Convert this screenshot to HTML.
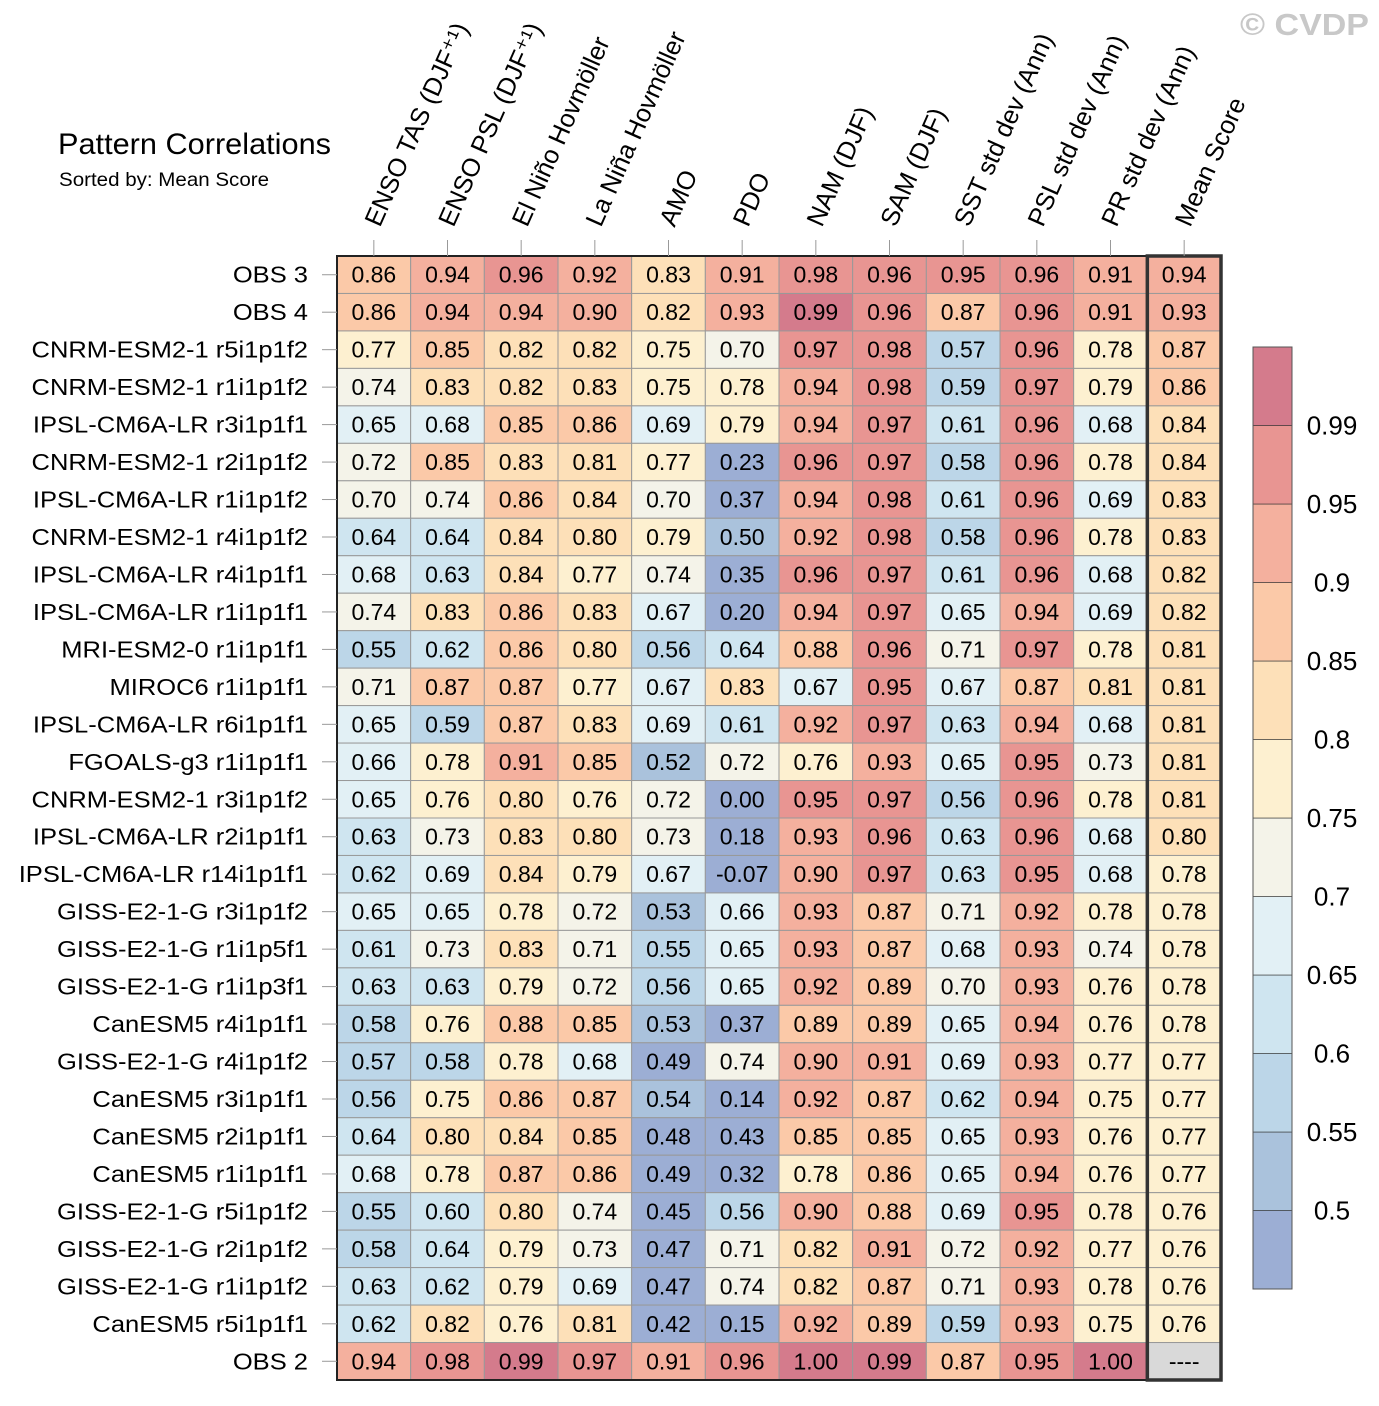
<!DOCTYPE html>
<html><head><meta charset="utf-8"><style>
body{margin:0;background:#fff;width:1379px;height:1401px;overflow:hidden}
svg{font-family:"Liberation Sans",sans-serif}
</style></head><body>
<svg id="chart" width="1379" height="1401" viewBox="0 0 1379 1401">
<text x="1240" y="35" font-size="31" font-weight="bold" fill="#c8c8c8" textLength="129" lengthAdjust="spacingAndGlyphs">© CVDP</text>
<text x="58" y="154" font-size="29.5" fill="#000" textLength="273" lengthAdjust="spacingAndGlyphs">Pattern Correlations</text>
<text x="59" y="186" font-size="19.5" fill="#000" textLength="210" lengthAdjust="spacingAndGlyphs">Sorted by: Mean Score</text>
<g id="cells"></g><g id="collabels"></g><g id="rowlabels"></g><g id="cbar"></g>
</svg>
<script>
const columns=["ENSO TAS (DJF\u207A\u00B9)","ENSO PSL (DJF\u207A\u00B9)","El Niño Hovmöller","La Niña Hovmöller","AMO","PDO","NAM (DJF)","SAM (DJF)","SST std dev (Ann)","PSL std dev (Ann)","PR std dev (Ann)","Mean Score"];
const rows=["OBS 3","OBS 4","CNRM-ESM2-1 r5i1p1f2","CNRM-ESM2-1 r1i1p1f2","IPSL-CM6A-LR r3i1p1f1","CNRM-ESM2-1 r2i1p1f2","IPSL-CM6A-LR r1i1p1f2","CNRM-ESM2-1 r4i1p1f2","IPSL-CM6A-LR r4i1p1f1","IPSL-CM6A-LR r1i1p1f1","MRI-ESM2-0 r1i1p1f1","MIROC6 r1i1p1f1","IPSL-CM6A-LR r6i1p1f1","FGOALS-g3 r1i1p1f1","CNRM-ESM2-1 r3i1p1f2","IPSL-CM6A-LR r2i1p1f1","IPSL-CM6A-LR r14i1p1f1","GISS-E2-1-G r3i1p1f2","GISS-E2-1-G r1i1p5f1","GISS-E2-1-G r1i1p3f1","CanESM5 r4i1p1f1","GISS-E2-1-G r4i1p1f2","CanESM5 r3i1p1f1","CanESM5 r2i1p1f1","CanESM5 r1i1p1f1","GISS-E2-1-G r5i1p1f2","GISS-E2-1-G r2i1p1f2","GISS-E2-1-G r1i1p1f2","CanESM5 r5i1p1f1","OBS 2"];
const values=[
[0.86,0.94,0.96,0.92,0.83,0.91,0.98,0.96,0.95,0.96,0.91,0.94],
[0.86,0.94,0.94,0.90,0.82,0.93,0.99,0.96,0.87,0.96,0.91,0.93],
[0.77,0.85,0.82,0.82,0.75,0.70,0.97,0.98,0.57,0.96,0.78,0.87],
[0.74,0.83,0.82,0.83,0.75,0.78,0.94,0.98,0.59,0.97,0.79,0.86],
[0.65,0.68,0.85,0.86,0.69,0.79,0.94,0.97,0.61,0.96,0.68,0.84],
[0.72,0.85,0.83,0.81,0.77,0.23,0.96,0.97,0.58,0.96,0.78,0.84],
[0.70,0.74,0.86,0.84,0.70,0.37,0.94,0.98,0.61,0.96,0.69,0.83],
[0.64,0.64,0.84,0.80,0.79,0.50,0.92,0.98,0.58,0.96,0.78,0.83],
[0.68,0.63,0.84,0.77,0.74,0.35,0.96,0.97,0.61,0.96,0.68,0.82],
[0.74,0.83,0.86,0.83,0.67,0.20,0.94,0.97,0.65,0.94,0.69,0.82],
[0.55,0.62,0.86,0.80,0.56,0.64,0.88,0.96,0.71,0.97,0.78,0.81],
[0.71,0.87,0.87,0.77,0.67,0.83,0.67,0.95,0.67,0.87,0.81,0.81],
[0.65,0.59,0.87,0.83,0.69,0.61,0.92,0.97,0.63,0.94,0.68,0.81],
[0.66,0.78,0.91,0.85,0.52,0.72,0.76,0.93,0.65,0.95,0.73,0.81],
[0.65,0.76,0.80,0.76,0.72,0.00,0.95,0.97,0.56,0.96,0.78,0.81],
[0.63,0.73,0.83,0.80,0.73,0.18,0.93,0.96,0.63,0.96,0.68,0.80],
[0.62,0.69,0.84,0.79,0.67,-0.07,0.90,0.97,0.63,0.95,0.68,0.78],
[0.65,0.65,0.78,0.72,0.53,0.66,0.93,0.87,0.71,0.92,0.78,0.78],
[0.61,0.73,0.83,0.71,0.55,0.65,0.93,0.87,0.68,0.93,0.74,0.78],
[0.63,0.63,0.79,0.72,0.56,0.65,0.92,0.89,0.70,0.93,0.76,0.78],
[0.58,0.76,0.88,0.85,0.53,0.37,0.89,0.89,0.65,0.94,0.76,0.78],
[0.57,0.58,0.78,0.68,0.49,0.74,0.90,0.91,0.69,0.93,0.77,0.77],
[0.56,0.75,0.86,0.87,0.54,0.14,0.92,0.87,0.62,0.94,0.75,0.77],
[0.64,0.80,0.84,0.85,0.48,0.43,0.85,0.85,0.65,0.93,0.76,0.77],
[0.68,0.78,0.87,0.86,0.49,0.32,0.78,0.86,0.65,0.94,0.76,0.77],
[0.55,0.60,0.80,0.74,0.45,0.56,0.90,0.88,0.69,0.95,0.78,0.76],
[0.58,0.64,0.79,0.73,0.47,0.71,0.82,0.91,0.72,0.92,0.77,0.76],
[0.63,0.62,0.79,0.69,0.47,0.74,0.82,0.87,0.71,0.93,0.78,0.76],
[0.62,0.82,0.76,0.81,0.42,0.15,0.92,0.89,0.59,0.93,0.75,0.76],
[0.94,0.98,0.99,0.97,0.91,0.96,1.00,0.99,0.87,0.95,1.00,null]];
const levels=[0.5,0.55,0.6,0.65,0.7,0.75,0.8,0.85,0.9,0.95,0.99];
const levelLabels=["0.5","0.55","0.6","0.65","0.7","0.75","0.8","0.85","0.9","0.95","0.99"];
const palette=["#9caed4","#aac2dc","#bcd6e8","#cfe5f0","#e2f0f5","#f4f3e9","#fdf0d0","#fde0b8","#fbc9a8","#f4b09e","#e89592","#d47b8c"];

const NS="http://www.w3.org/2000/svg";
const X0=337,X1=1221,Y0=256,Y1=1380;
const cw=(X1-X0)/columns.length, rh=(Y1-Y0)/rows.length;
const xPos=i=>X0+i*cw, yPos=j=>Y0+j*rh;
function colorOf(v){if(v===null)return"#d9d9d9";let k=0;for(const b of levels){if(v>=b-1e-9)k++;}return palette[k];}
function mk(tag,attrs,parent,txt){const e=document.createElementNS(NS,tag);for(const a in attrs)e.setAttribute(a,attrs[a]);if(txt!==undefined)e.textContent=txt;parent.appendChild(e);return e;}
const gc=document.getElementById('cells');
values.forEach((row,j)=>row.forEach((v,i)=>{
  const r=mk('rect',{x:xPos(i),y:yPos(j),width:cw,height:rh,fill:colorOf(v),stroke:'#999','stroke-width':1},gc);
  
  
  const t=mk('text',{x:xPos(i)+cw/2,y:yPos(j)+rh/2+8,'text-anchor':'middle','font-size':23,fill:'#000'},gc,v===null?'----':v.toFixed(2));
  
  
}));
const ob=mk('rect',{x:X0,y:Y0,width:X1-X0,height:Y1-Y0,fill:'none',stroke:'#222','stroke-width':2},gc);


const mb=mk('rect',{x:xPos(11),y:Y0,width:cw,height:Y1-Y0,fill:'none',stroke:'#333','stroke-width':3.5},gc);


const gcl=document.getElementById('collabels');
columns.forEach((c,i)=>{
  const cx=xPos(i)+cw/2;
  mk('line',{x1:cx,y1:240,x2:cx,y2:Y0,stroke:'#999','stroke-width':1},gcl);
  const sx=cx+6, sy=228;
  const t=mk('text',{x:sx,y:sy,'font-size':25.5,fill:'#000',transform:`rotate(-66 ${sx} ${sy})`},gcl,c);
  
  
});
const grl=document.getElementById('rowlabels');
rows.forEach((r,j)=>{
  const cy=yPos(j)+rh/2;
  mk('line',{x1:322,y1:cy,x2:X0,y2:cy,stroke:'#999','stroke-width':1},grl);
  const t=mk('text',{x:308,y:cy+8,'text-anchor':'end','font-size':23,fill:'#000',transform:`translate(308 0) scale(1.11 1) translate(-308 0)`},grl,r);
  
  
});
const gb=document.getElementById('cbar');
const BX=1253,BW=39,BT=347,BB=1289,bh=(BB-BT)/palette.length;
palette.forEach((p,k)=>{
  const r=mk('rect',{x:BX,y:BB-(k+1)*bh,width:BW,height:bh,fill:p,stroke:'#333','stroke-width':0.6},gb);
  
  
});
mk('rect',{x:BX,y:BT,width:BW,height:BB-BT,fill:'none',stroke:'#555','stroke-width':1},gb);
levelLabels.forEach((l,k)=>{
  const y=BB-(k+1)*bh;
  const t=mk('text',{x:1332,y:y+9,'text-anchor':'middle','font-size':26,fill:'#000'},gb,l);
  
  
});
</script>
</body></html>
